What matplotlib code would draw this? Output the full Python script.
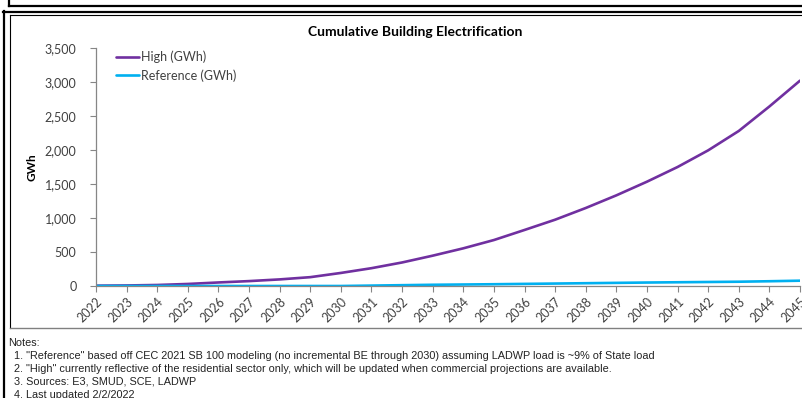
import numpy as np
import matplotlib
matplotlib.use('Agg')
import matplotlib.pyplot as plt
from matplotlib.lines import Line2D

# Datos
years = list(range(2022, 2046))
high_gwh = [5, 8, 15, 30, 52, 72, 97, 130, 192, 262, 346, 446,
            554, 676, 824, 975, 1147, 1333, 1534, 1750, 1995, 2280, 2640, 3020]
ref_gwh = [0, 0, 0, 0, 0, 0, 0, 0, 0, 6, 12, 18,
           22, 26, 31, 36, 41, 46, 51, 55, 59, 63, 70, 78]
y_ticks = [0, 500, 1000, 1500, 2000, 2500, 3000, 3500]
notes = [
    'Notes:',
    '  1. "Reference" based off CEC 2021 SB 100 modeling (no incremental BE through 2030) assuming LADWP load is ~9% of State load',
    '  2. "High" currently reflective of the residential sector only, which will be updated when commercial projections are available.',
    '  3. Sources: E3, SMUD, SCE, LADWP',
    '  4. Last updated 2/2/2022',
]

W, H = 803, 398
fig = plt.figure(figsize=(W / 100, H / 100), dpi=100)
plt.rcParams['font.family'] = ['Lato', 'DejaVu Sans']

def px(x, y):
    return x / W, 1 - y / H

def hline(y, x0, x1, lw, color='black'):
    a, b = px(x0, y)
    c, _ = px(x1, y)
    fig.add_artist(Line2D([a, c], [b, b], transform=fig.transFigure, lw=lw, color=color))

def vline(x, y0, y1, lw, color='black'):
    a, b = px(x, y0)
    _, d = px(x, y1)
    fig.add_artist(Line2D([a, a], [b, d], transform=fig.transFigure, lw=lw, color=color))

# ── Marcos ─────────────────────────────────────────────────────────────────────
vline(9.5, 0, 5.5, 1.6)
hline(5.5, 9, W + 2, 1.6)
hline(11.5, 3, W + 2, 1.6)
vline(4, 11, H + 2, 1.6)
hline(15, 10, W + 2, 0.8)
vline(10, 15, 328, 0.8)
hline(328, 10, W + 2, 1.0, color='#808080')

# ── Gráfico ────────────────────────────────────────────────────────────────────
left, right = 96, 800
top, bottom = 48, 286
ax = fig.add_axes([left / W, 1 - bottom / H, (right - left) / W, (bottom - top) / H])

ax.plot(years, high_gwh, color='#7030A0', lw=1.9, label='High (GWh)', solid_capstyle='round')
ax.plot(years, ref_gwh, color='#00B0F0', lw=1.9, label='Reference (GWh)', solid_capstyle='round')

ax.set_xlim(2022, 2045)
ax.set_ylim(0, 3500)
ax.set_yticks(y_ticks)
ax.set_yticklabels([f'{v:,}' for v in y_ticks], fontsize=9, color='#404040')
ax.set_xticks(years)
ax.set_xticklabels([str(y) for y in years], fontsize=9, color='#404040',
                   rotation=45, ha='right', va='top', rotation_mode='anchor')

for s in ['top', 'right']:
    ax.spines[s].set_visible(False)
for s in ['left', 'bottom']:
    ax.spines[s].set_color('#868686')
    ax.spines[s].set_linewidth(0.9)
ax.tick_params(axis='both', color='#868686', length=4, width=0.8)
ax.tick_params(axis='y', pad=10)
ax.tick_params(axis='x', pad=3)
ax.patch.set_alpha(0)

ax.set_ylabel('GWh', fontsize=8.5, fontweight='bold', labelpad=5)

leg = ax.legend(loc='upper left', bbox_to_anchor=(0.012, 1.035), frameon=False,
                fontsize=9, handlelength=1.9, handletextpad=0.1, labelspacing=0.45)
for t in leg.get_texts():
    t.set_color('#404040')

fig.text(415 / W, 1 - 32 / H, 'Cumulative Building Electrification',
         fontsize=10, fontweight='bold', ha='center', va='center')

# ── Notas ──────────────────────────────────────────────────────────────────────
for i, line in enumerate(notes):
    fig.text(8 / W, 1 - (343 + i * 13) / H, line, fontsize=7.8,
             family=['Liberation Sans', 'DejaVu Sans'], color='#222222',
             ha='left', va='center')

fig.savefig('out.png', dpi=100)
